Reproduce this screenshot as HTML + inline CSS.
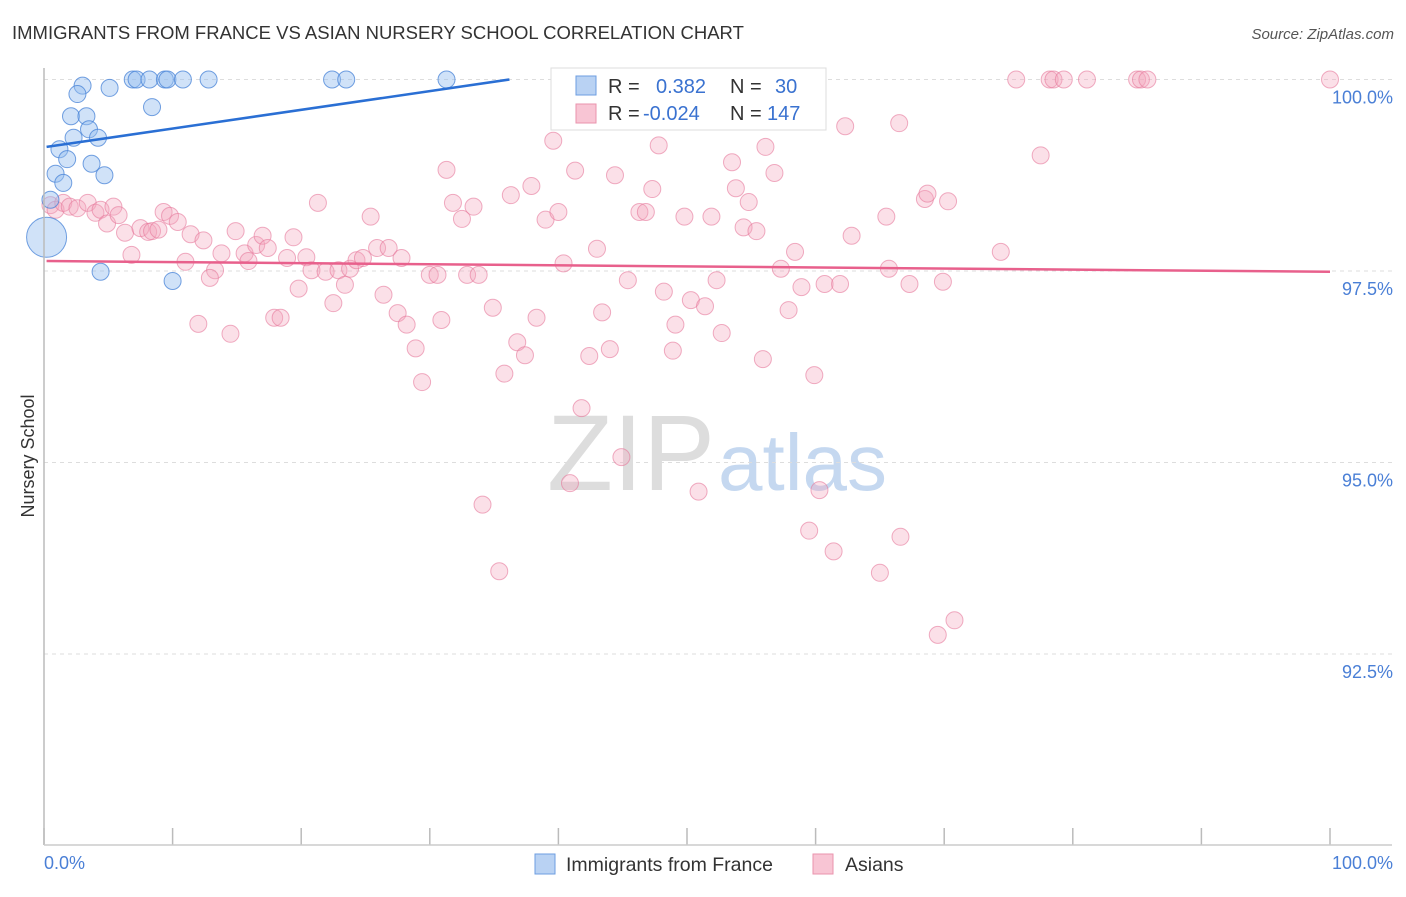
<!DOCTYPE html>
<html><head><meta charset="utf-8"><style>
body{margin:0;background:#fff;font-family:"Liberation Sans",sans-serif}
svg text{font-family:"Liberation Sans",sans-serif}
</style></head><body>
<svg id="c" width="1406" height="892">
<text x="12" y="39" font-size="18.5" fill="#333">IMMIGRANTS FROM FRANCE VS ASIAN NURSERY SCHOOL CORRELATION CHART</text>
<text x="1394" y="39" font-size="15" fill="#555" font-style="italic" text-anchor="end">Source: ZipAtlas.com</text>
<text x="715" y="490" font-size="108" fill="#ddd" text-anchor="end" font-family="Liberation Serif">ZIP</text>
<text x="718" y="490" font-size="80" fill="#c5d8f0">atlas</text>
<text transform="translate(34,456) rotate(-90)" font-size="18" fill="#333" text-anchor="middle">Nursery School</text>
<g id="grid"></g><g id="pts"></g><g id="lines"></g>
<line x1="44" y1="68" x2="44" y2="845" stroke="#bbb" stroke-width="1.5"/>
<line x1="44" y1="845" x2="1392" y2="845" stroke="#ccc" stroke-width="1.5"/>
<text x="44" y="869" font-size="18" fill="#4a7fd6">0.0%</text>
<text x="1393" y="869" font-size="18" fill="#4a7fd6" text-anchor="end">100.0%</text>
<g>
<rect x="551" y="68" width="275" height="62" fill="#fff" stroke="#ddd"/>
<rect x="576" y="76" width="20" height="19" fill="#b9d2f3" stroke="#6d9ee0"/>
<rect x="576" y="104" width="20" height="19" fill="#f8c5d4" stroke="#ea93ad"/>
<text x="608" y="93" font-size="20" fill="#333">R = </text><text x="656" y="93" font-size="20" fill="#3a72d0">0.382</text>
<text x="730" y="93" font-size="20" fill="#333">N = </text><text x="775" y="93" font-size="20" fill="#3a72d0">30</text>
<text x="608" y="120" font-size="20" fill="#333">R = </text><text x="643" y="120" font-size="20" fill="#3a72d0">-0.024</text>
<text x="730" y="120" font-size="20" fill="#333">N = </text><text x="767" y="120" font-size="20" fill="#3a72d0">147</text>
</g>
<g>
<rect x="535" y="854" width="20" height="20" fill="#b9d2f3" stroke="#6d9ee0"/>
<text x="566" y="871" font-size="19.5" fill="#333">Immigrants from France</text>
<rect x="813" y="854" width="20" height="20" fill="#f8c5d4" stroke="#ea93ad"/>
<text x="845" y="871" font-size="19.5" fill="#333">Asians</text>
</g>
</svg>
<script>
const yTicks=[100,97.5,95,92.5];
const yTickLabels=["100.0%","97.5%","95.0%","92.5%"];
const xTicks=[0,10,20,30,40,50,60,70,80,90,100];
const blueX=[6.9,7.2,8.2,9.4,9.6,10.8,12.8,22.4,23.5,31.3,60.1,3.0,2.6,5.1,8.4,2.1,3.3,3.5,2.3,4.2,1.2,1.8,3.7,0.9,4.7,1.5,0.5,0.2,4.4,10.0];
const blueY=[100,100,100,100,100,100,100,100,100,100,100,99.92,99.81,99.89,99.64,99.52,99.52,99.35,99.24,99.24,99.09,98.96,98.90,98.77,98.75,98.65,98.43,97.94,97.49,97.37];
const blueBig=[27];
const pinkX=[0.5,0.9,1.5,2.0,2.6,3.4,4.0,4.4,4.9,5.4,5.8,6.3,6.8,7.5,8.1,8.4,8.9,9.3,9.8,10.4,11.0,11.4,12.0,12.4,13.3,12.9,13.8,14.5,14.9,15.6,15.9,16.5,17.0,17.4,17.9,18.4,18.9,19.4,19.8,20.4,20.8,21.3,21.9,22.5,22.9,23.4,23.8,24.3,24.8,25.4,25.9,26.4,26.8,27.5,27.8,28.2,28.9,29.4,30.0,30.6,30.9,31.3,31.8,32.5,32.9,33.4,33.8,34.1,34.9,35.4,35.8,36.3,36.8,37.4,37.9,38.3,39.0,39.6,40.0,40.4,41.3,41.8,42.4,43.0,43.4,44.0,44.4,44.9,45.4,45.9,46.3,46.8,47.3,47.8,48.2,48.9,49.1,49.8,50.3,50.9,51.4,51.9,52.3,52.7,53.5,53.8,54.4,54.8,55.4,55.9,56.1,56.8,57.3,57.9,58.4,58.9,59.5,59.9,60.3,60.7,61.4,61.9,62.3,62.8,65.0,65.5,65.7,66.5,66.6,67.3,68.5,68.7,69.5,69.9,70.3,70.8,74.4,75.6,77.5,78.2,78.5,79.3,81.1,85.0,85.3,85.8,100,40.9];
const pinkY=[98.36,98.30,98.39,98.34,98.32,98.39,98.26,98.30,98.12,98.34,98.23,98.0,97.71,98.06,98.01,98.02,98.04,98.27,98.22,98.14,97.62,97.98,96.81,97.90,97.51,97.41,97.73,96.68,98.02,97.73,97.63,97.84,97.96,97.80,96.89,96.89,97.67,97.94,97.27,97.68,97.51,98.39,97.49,97.08,97.51,97.32,97.53,97.64,97.67,98.21,97.80,97.19,97.80,96.95,97.67,96.80,96.49,96.05,97.45,97.45,96.86,98.82,98.39,98.18,97.45,98.34,97.45,94.45,97.02,93.58,96.16,98.49,96.57,96.40,98.61,96.89,98.17,99.20,98.27,97.60,98.81,95.71,96.39,97.79,96.96,96.48,98.75,95.07,97.38,99.46,98.27,98.27,98.57,99.14,97.23,96.46,96.80,98.21,97.12,94.62,97.04,98.21,97.38,96.69,98.92,98.58,98.07,98.40,98.02,96.35,99.12,98.78,97.53,96.99,97.75,97.29,94.11,96.14,94.64,97.33,93.84,97.33,99.39,97.96,93.56,98.21,97.53,99.43,94.03,97.33,98.44,98.51,92.75,97.36,98.41,92.94,97.75,100,99.01,100,100,100,100,100,100,100,100,94.73];
const blueTrend=[[0.2,99.12],[100,101.56]];
const pinkTrend=[[0.2,97.63],[100,97.49]];
const X=v=>44+v*12.86, Y=v=>79.5+(100-v)*76.6;
const NS="http://www.w3.org/2000/svg";
function mk(t,a,p){const e=document.createElementNS(NS,t);for(const k in a)e.setAttribute(k,a[k]);document.getElementById(p).appendChild(e);return e;}
yTicks.forEach((t,i)=>{
 const g=mk('line',{x1:44,x2:1392,y1:Y(t),y2:Y(t),stroke:'#ddd','stroke-dasharray':'4,4'},'grid');
 
 
 const l=mk('text',{x:1393,y:Y(t)+24,'font-size':18,fill:'#4a7fd6','text-anchor':'end'},'grid');
 l.textContent=yTickLabels[i];
 
 
});
xTicks.forEach(t=>{
 const k=mk('line',{x1:X(t),x2:X(t),y1:828,y2:845,stroke:'#bbb','stroke-width':1.5},'grid');
 
 
});
pinkX.forEach((x,i)=>{
 const c=mk('circle',{cx:X(x),cy:Y(pinkY[i]),r:8.5,fill:'rgba(244,166,190,0.35)',stroke:'rgba(230,120,155,0.6)','stroke-width':1},'pts');
 
 
});
blueX.forEach((x,i)=>{
 const big=blueBig.includes(i);
 const c=mk('circle',{cx:X(x),cy:Y(blueY[i]),r:big?20:8.5,fill:'rgba(150,190,240,0.45)',stroke:'rgba(70,130,215,0.75)','stroke-width':1},'pts');
 
 
});
const b0=blueTrend[0],b1=blueTrend[1];
const xc=Math.min(b1[0],b0[0]+(100-b0[1])*(b1[0]-b0[0])/(b1[1]-b0[1]));
const yc=b0[1]+(xc-b0[0])*(b1[1]-b0[1])/(b1[0]-b0[0]);
const bl=mk('line',{x1:X(b0[0]),y1:Y(b0[1]),x2:X(xc),y2:Y(yc),stroke:'#2a6fd4','stroke-width':2.5},'lines');


const pl=mk('line',{x1:X(pinkTrend[0][0]),y1:Y(pinkTrend[0][1]),x2:X(pinkTrend[1][0]),y2:Y(pinkTrend[1][1]),stroke:'#e8608c','stroke-width':2.5},'lines');


</script>
</body></html>
